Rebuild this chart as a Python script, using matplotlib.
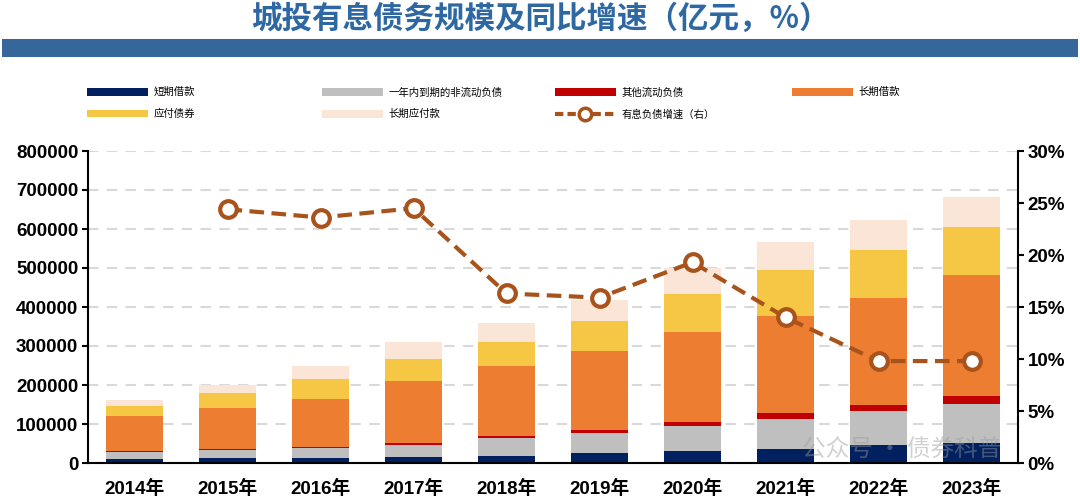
import matplotlib
matplotlib.use("Agg")
import matplotlib.pyplot as plt
import numpy as np
from matplotlib.patches import Patch, Rectangle
from matplotlib.lines import Line2D
from matplotlib.ticker import FuncFormatter, MultipleLocator

plt.rcParams['font.family'] = ['Liberation Sans', 'Noto Sans CJK SC', 'DejaVu Sans']

# data (亿元 / %)
years = ['2014年', '2015年', '2016年', '2017年', '2018年',
         '2019年', '2020年', '2021年', '2022年', '2023年']
short_loans = [11000, 13000, 13000, 15500, 19000, 25000, 32000, 36000, 45000, 52000]
noncur_due = [17000, 20000, 25000, 31500, 44000, 53000, 64000, 78000, 88000, 100000]
other_cur = [3000, 3000, 4000, 4000, 5000, 7000, 9000, 14000, 16000, 19000]
long_loans = [89000, 105000, 123000, 159000, 181000, 201000, 230000, 248000, 274000, 311000]
bonds = [27000, 39000, 51000, 57000, 62000, 77000, 99000, 120000, 123000, 122000]
long_payable = [14000, 21000, 33000, 43000, 49000, 54000, 67000, 71000, 78000, 79000]
growth = [np.nan, 24.4, 23.6, 24.5, 16.3, 15.9, 19.3, 14.0, 9.8, 9.8]

series_names = ['短期借款', '一年内到期的非流动负债', '其他流动负债', '长期借款', '应付债券', '长期应付款']
series_vals = [short_loans, noncur_due, other_cur, long_loans, bonds, long_payable]
colors = ['#002060', '#BFBFBF', '#C00000', '#ED7D31', '#F6C744', '#FBE5D6']
line_name = '有息负债增速（右）'
line_color = '#A9531C'

fig = plt.figure(figsize=(10.8, 4.98), dpi=100)

# title and band
fig.text(0.5, 0.963, '城投有息债务规模及同比增速（亿元，%）', ha='center', va='center',
         fontsize=22, fontweight='bold', color='#2E68A3', family=['Noto Sans CJK SC'])
fig.patches.append(Rectangle((0.002, 0.885), 0.996, 0.036, transform=fig.transFigure,
                             facecolor='#35679A', edgecolor='none'))

ax = fig.add_axes([88 / 1080, 35 / 498, 930 / 1080, 312 / 498])
x = np.arange(len(years))
bottom = np.zeros(len(years))
for name, vals, c in zip(series_names, series_vals, colors):
    ax.bar(x, vals, width=0.62, bottom=bottom, color=c, label=name, zorder=2)
    bottom += np.array(vals)

ax.set_xlim(-0.5, len(years) - 0.5)
ax.set_ylim(0, 800000)
ax.yaxis.set_major_locator(MultipleLocator(100000))
ax.yaxis.set_major_formatter(FuncFormatter(lambda v, p: '%d' % v))
ax.grid(axis='y', color='#D9D9D9', linestyle=(0, (5, 4)), linewidth=1.5, zorder=0)
ax.set_xticks(x)
ax.set_xticklabels(years)
ax.tick_params(axis='x', length=0, pad=12, labelsize=13.5)
ax.tick_params(axis='y', length=4, width=1.5, labelsize=13.5, pad=3)
for lab in ax.get_xticklabels() + ax.get_yticklabels():
    lab.set_fontweight('bold')
ax.spines['top'].set_visible(False)
ax.spines['right'].set_visible(False)
for s in ['left', 'bottom']:
    ax.spines[s].set_linewidth(1.5)

ax2 = ax.twinx()
ax2.plot(x, growth, color=line_color, linestyle=(0, (3.5, 1.8)), linewidth=3,
         marker='o', markersize=12, markerfacecolor='white', markeredgecolor=line_color,
         markeredgewidth=3, zorder=5)
ax2.set_ylim(0, 30)
ax2.yaxis.set_major_locator(MultipleLocator(5))
ax2.yaxis.set_major_formatter(FuncFormatter(lambda v, p: '%d%%' % v))
ax2.tick_params(axis='y', length=4, width=1.5, labelsize=13.5, pad=3)
for lab in ax2.get_yticklabels():
    lab.set_fontweight('bold')
ax2.spines['top'].set_visible(False)
ax2.spines['left'].set_visible(False)
ax2.spines['bottom'].set_visible(False)
ax2.spines['right'].set_linewidth(1.5)

# legend laid out on a fixed grid, one legend per column
handles = [Patch(facecolor=c, edgecolor='none', label=n) for n, c in zip(series_names, colors)]
handles.append(Line2D([0], [0], color=line_color, linestyle=(0, (2, 1)), linewidth=3,
                      marker='o', markersize=9, markerfacecolor='white',
                      markeredgecolor=line_color, markeredgewidth=2.5, label=line_name))
columns = [[handles[0], handles[4]], [handles[1], handles[5]], [handles[2], handles[6]], [handles[3]]]
col_x = [83, 318, 551, 788]
for hs, cx in zip(columns, col_x):
    fig.legend(handles=hs, loc='upper left', bbox_to_anchor=(cx / 1080, 1 - 83 / 498),
               frameon=False, handlelength=5.8, handleheight=0.8,
               handletextpad=0.6, labelspacing=1.1, borderaxespad=0,
               prop={'family': ['Noto Sans CJK SC'], 'size': 7.5})

# watermark
fig.text(0.835, 0.095, '公众号 · 债券科普', ha='center', va='center', fontsize=17,
         color='#9A9A9A', alpha=0.45, family=['Noto Sans CJK SC'], zorder=10)

fig.savefig('out.png', dpi=100)
